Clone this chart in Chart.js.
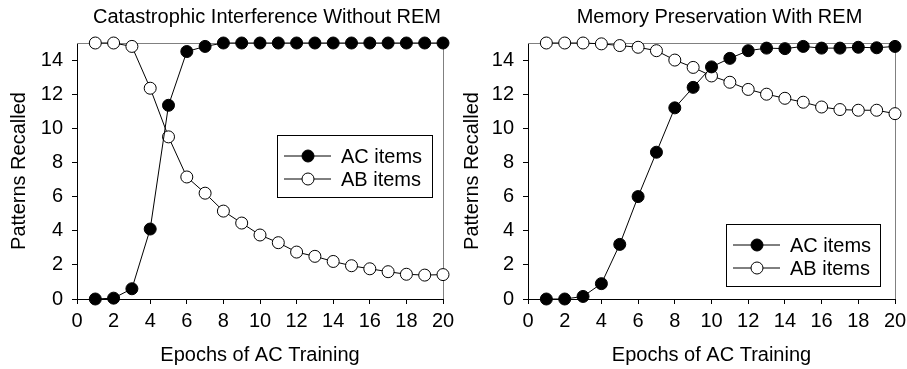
<!DOCTYPE html>
<html>
<head>
<meta charset="utf-8">
<script src="https://cdn.jsdelivr.net/npm/chart.js@4/dist/chart.umd.min.js"></script>
<style>
  body { margin: 0; background: #fff; }
  #left, #right { position: absolute; top: 0; }
  #left { left: 0; }
  #right { left: 453px; }
</style>
</head>
<body>
<canvas id="left" width="462" height="369"></canvas>
<canvas id="right" width="454" height="369"></canvas>
<script>
// epochs 1..20
const epochs = [1,2,3,4,5,6,7,8,9,10,11,12,13,14,15,16,17,18,19,20];
const xTicks = [0,2,4,6,8,10,12,14,16,18,20];
const yTicks = [0,2,4,6,8,10,12,14];

// without REM
const acNoRem = [0,0.05,0.6,4.1,11.35,14.5,14.8,15,15,15,15,15,15,15,15,15,15,15,15,15];
const abNoRem = [15,15,14.8,12.35,9.5,7.15,6.2,5.15,4.45,3.75,3.3,2.75,2.5,2.2,1.95,1.77,1.6,1.45,1.4,1.43];

// with REM
const acRem = [0,0,0.15,0.9,3.2,6.0,8.6,11.2,12.4,13.6,14.1,14.55,14.7,14.67,14.8,14.7,14.7,14.75,14.72,14.8];
const abRem = [15,15,15,14.95,14.85,14.75,14.55,14.0,13.57,13.07,12.7,12.28,12.0,11.76,11.53,11.25,11.1,11.06,11.06,10.86];

const FONT = "Arial, 'Liberation Sans', sans-serif";

function pts(vals) {
    return epochs.map((e, i) => ({ x: e, y: vals[i] }));
}

// frame, title and legend drawn on top of the library's layout
const extras = {
    id: "extras",
    beforeDatasetsDraw(chart) {
        const a = chart.chartArea;
        const ctx = chart.ctx;
        ctx.save();
        ctx.strokeStyle = "#808080";
        ctx.lineWidth = 1;
        ctx.beginPath();
        ctx.moveTo(a.left, a.top + 0.5);
        ctx.lineTo(a.right + 0.5, a.top + 0.5);
        ctx.lineTo(a.right + 0.5, a.bottom);
        ctx.stroke();
        ctx.restore();
    },
    afterDraw(chart, args, opts) {
        const a = chart.chartArea;
        const ctx = chart.ctx;
        ctx.save();
        // title
        ctx.fillStyle = "#000";
        ctx.font = "20px " + FONT;
        ctx.textAlign = "center";
        ctx.textBaseline = "alphabetic";
        ctx.fillText(opts.title, (a.left + a.right) / 2 + opts.titleShift, 23);

        // legend
        const lg = opts.legend;
        ctx.fillStyle = "#fff";
        ctx.fillRect(lg.x, lg.y, lg.w, lg.h);
        ctx.strokeStyle = "#000";
        ctx.lineWidth = 1;
        ctx.strokeRect(lg.x + 0.5, lg.y + 0.5, lg.w, lg.h);
        const ds = chart.data.datasets;
        ds.forEach((d, i) => {
            const y = lg.y + 21 + i * 23;
            ctx.beginPath();
            ctx.moveTo(lg.x + 7, y);
            ctx.lineTo(lg.x + 54, y);
            ctx.strokeStyle = "#000";
            ctx.stroke();
            ctx.beginPath();
            ctx.arc(lg.x + 31, y, 6, 0, Math.PI * 2);
            ctx.fillStyle = d.backgroundColor;
            ctx.fill();
            ctx.stroke();
            ctx.fillStyle = "#000";
            ctx.font = "20px " + FONT;
            ctx.textAlign = "left";
            ctx.textBaseline = "middle";
            ctx.fillText(d.label, lg.x + 64, y + 1);
        });
        ctx.restore();
    }
};

function makeChart(id, ac, ab, title, titleShift, legend, leftW, rightPad) {
    return new Chart(document.getElementById(id), {
        type: "line",
        data: {
            datasets: [
                { label: "AC items", data: pts(ac), borderColor: "#000", backgroundColor: "#000",
                  borderWidth: 1, pointRadius: 6, pointBorderColor: "#000", pointBorderWidth: 1, clip: false },
                { label: "AB items", data: pts(ab), borderColor: "#000", backgroundColor: "#fff",
                  borderWidth: 1, pointRadius: 6, pointBorderColor: "#000", pointBorderWidth: 1, clip: false }
            ]
        },
        options: {
            responsive: false,
            animation: false,
            layout: { padding: { top: 43, right: rightPad, left: 0, bottom: 0 } },
            plugins: {
                legend: { display: false },
                tooltip: { enabled: false },
                extras: { title: title, titleShift: titleShift, legend: legend }
            },
            scales: {
                x: {
                    type: "linear", min: 0, max: 20,
                    afterBuildTicks: s => { s.ticks = xTicks.map(v => ({ value: v })); },
                    afterFit: s => { s.height = 70; s.paddingLeft = 0; s.paddingRight = 0; },
                    ticks: { color: "#000", font: { size: 20, family: FONT }, padding: 5, maxRotation: 0 },
                    grid: { drawOnChartArea: false, color: "#000", tickLength: 5 },
                    border: { color: "#000" },
                    title: { display: true, text: "Epochs of AC Training", color: "#000",
                             font: { size: 20, family: FONT }, padding: { top: 2, bottom: 2 } }
                },
                y: {
                    min: 0, max: 15,
                    afterBuildTicks: s => { s.ticks = yTicks.map(v => ({ value: v })); },
                    afterFit: s => { s.width = leftW; s.paddingTop = 0; s.paddingBottom = 0; },
                    ticks: { color: "#000", font: { size: 20, family: FONT }, padding: 9 },
                    grid: { drawOnChartArea: false, color: "#000", tickLength: 5 },
                    border: { color: "#000" },
                    title: { display: true, text: "Patterns Recalled", color: "#000",
                             font: { size: 20, family: FONT }, padding: { top: 7, bottom: 2 } }
                }
            }
        },
        plugins: [extras]
    });
}

makeChart("left", acNoRem, abNoRem, "Catastrophic Interference Without REM", 7,
    { x: 277, y: 135, w: 155, h: 62 }, 77, 19);
makeChart("right", acRem, abRem, "Memory Preservation With REM", 8,
    { x: 273, y: 224, w: 154, h: 62 }, 75, 12);
</script>
</body>
</html>
